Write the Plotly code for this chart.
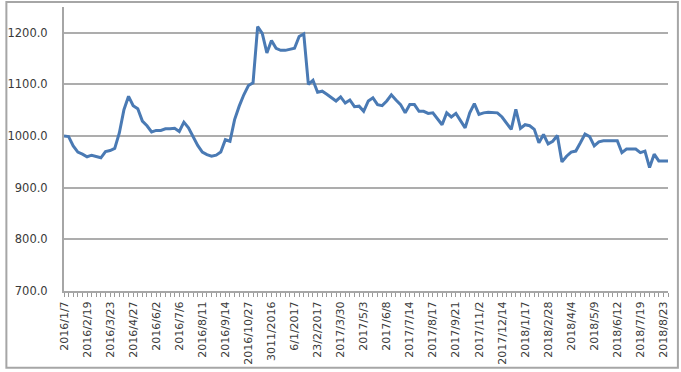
import plotly.graph_objects as go

tick_labels = ["2016/1/7", "2016/2/19", "2016/3/23", "2016/4/27", "2016/6/2", "2016/7/6",
               "2016/8/11", "2016/9/14", "2016/10/27", "3011/2016", "6/1/2017", "23/2/2017",
               "2017/3/30", "2017/5/3", "2017/6/8", "2017/7/14", "2017/8/17", "2017/9/21",
               "2017/11/2", "2017/12/14", "2018/1/17", "2018/2/28", "2018/4/4", "2018/5/9",
               "2018/6/12", "2018/7/19", "2018/8/23"]
label_step = 5

values = [1000, 999, 981, 969, 965, 960, 963, 961, 958, 970,
          972, 976, 1006, 1051, 1077, 1059, 1053, 1029, 1020, 1008,
          1011, 1011, 1014, 1014, 1015, 1009, 1027, 1016, 1000, 982,
          969, 964, 961, 963, 969, 993, 990, 1032, 1058, 1080,
          1098, 1103, 1212, 1199, 1161, 1185, 1170, 1166, 1166, 1168,
          1170, 1193, 1198, 1100, 1108, 1085, 1087, 1081, 1074, 1068,
          1076, 1064, 1070, 1057, 1058, 1048, 1068, 1074, 1061, 1059,
          1068, 1080, 1070, 1061, 1045, 1061, 1061, 1048, 1048, 1044,
          1045, 1033, 1022, 1045, 1037, 1044, 1029, 1016, 1045, 1063,
          1042, 1045, 1046, 1046, 1045, 1037, 1024, 1013, 1052, 1015,
          1022, 1020, 1013, 987, 1003, 985, 990, 1001, 950, 961,
          969, 971, 987, 1004, 999, 981, 989, 991, 991, 991,
          991, 968, 975, 975, 975, 968, 971, 939, 965, 952,
          952, 952]

x = list(range(len(values)))
tickvals = [i * label_step for i in range(len(tick_labels))]

fig = go.Figure()
fig.add_trace(go.Scatter(x=x, y=values, mode="lines",
                         line=dict(color="#4a7ab4", width=3), hoverinfo="skip"))

fig.update_layout(
    width=681, height=372,
    margin=dict(l=60, r=13, t=7, b=80),
    paper_bgcolor="white", plot_bgcolor="white",
    showlegend=False,
    font=dict(family="DejaVu Sans", size=11, color="#3a3a3a"),
)
fig.update_xaxes(
    range=[0, len(values) - 1],
    tickvals=tickvals, ticktext=tick_labels, tickangle=-90,
    ticks="outside", ticklen=4, tickcolor="#9a9a9a", tickwidth=1,
    minor=dict(ticks="outside", ticklen=4, dtick=1, tick0=0, tickcolor="#9a9a9a", showgrid=False),
    showgrid=False, showline=True, linecolor="#a6a6a6", linewidth=2,
    zeroline=False, tickfont=dict(size=11, color="#3a3a3a"),
)
fig.update_yaxes(
    range=[700, 1250], dtick=100, tick0=700, tickformat=".1f",
    showgrid=True, gridcolor="#adadad", gridwidth=2,
    showline=True, linecolor="#a6a6a6", linewidth=2,
    ticks="", ticklabelstandoff=12, zeroline=False,
    tickfont=dict(size=11.5, color="#3a3a3a"),
)
fig.add_shape(type="rect", xref="paper", yref="paper",
              x0=-0.0954, x1=1.0164, y0=-0.270, y1=1.0175,
              line=dict(color="#a6a6a6", width=2), fillcolor="rgba(0,0,0,0)")

fig.write_html("out.html")
